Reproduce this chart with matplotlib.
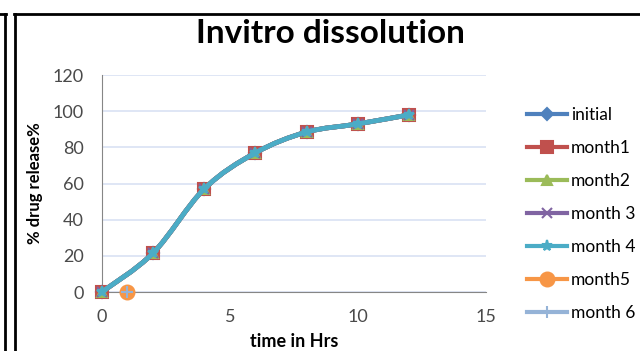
import matplotlib
matplotlib.use('Agg')
import matplotlib.pyplot as plt
from matplotlib.path import Path
from matplotlib.patches import PathPatch
from matplotlib.lines import Line2D
import numpy as np

plt.rcParams['font.family'] = ['Lato', 'DejaVu Sans']

# dissolution profile, hours vs % released
hours = [0, 2, 4, 6, 8, 10, 12]
initial = [0, 21.5, 57, 77, 88.5, 93, 98]
month1 = [0, 21.5, 57, 77, 88.5, 93, 98]
month2 = [0, 21.5, 57, 77, 88.5, 93, 98]
month3 = [0, 21.5, 57, 77, 88.5, 93, 98]
month4 = [0, 21.5, 57, 77, 88.5, 93, 98]
month5_hours = [1]
month5 = [0]
month6_hours = [1]
month6 = [0]

series = [
    ('initial', hours, initial, '#4F81BD', 'D', 6),
    ('month1', hours, month1, '#C0504D', 's', 9),
    ('month2', hours, month2, '#9BBB59', '^', 7),
    ('month 3', hours, month3, '#8064A2', 'x', 7),
    ('month 4', hours, month4, '#4BACC6', '*', 8),
    ('month5', month5_hours, month5, '#F79646', 'o', 10),
    ('month 6', month6_hours, month6, '#95B3D7', '+', 9),
]


def smooth_path(xs, ys):
    # Catmull-Rom style bezier segments through the points
    pts = np.column_stack([xs, ys]).astype(float)
    n = len(pts)
    verts = [pts[0]]
    codes = [Path.MOVETO]
    for i in range(n - 1):
        p0 = pts[max(i - 1, 0)]
        p1 = pts[i]
        p2 = pts[i + 1]
        p3 = pts[min(i + 2, n - 1)]
        c1 = p1 + (p2 - p0) / 6
        c2 = p2 - (p3 - p1) / 6
        verts += [c1, c2, p2]
        codes += [Path.CURVE4] * 3
    return Path(verts, codes)


fig = plt.figure(figsize=(6.4, 3.51), dpi=100)
ax = fig.add_axes([0.159, 0.168, 0.6, 0.618])

for i, (name, xs, ys, color, marker, ms) in enumerate(series):
    if len(xs) > 1:
        patch = PathPatch(smooth_path(xs, ys), facecolor='none', edgecolor=color,
                          lw=3.4, zorder=3 + i, capstyle='round')
        ax.add_patch(patch)
    mfc = 'none' if marker in ('x', '+') else color
    ax.plot(xs, ys, ls='none', marker=marker, ms=ms, color=color,
            mfc=mfc, mew=1.5, zorder=3 + i, clip_on=False)

ax.set_xlim(0, 15)
ax.set_ylim(0, 120)
ax.set_xticks([0, 5, 10, 15])
ax.set_yticks(range(0, 121, 20))
ax.yaxis.grid(True, color='#D9E2F3', lw=1.2)
ax.set_axisbelow(True)
for side in ['top', 'right']:
    ax.spines[side].set_visible(False)
ax.spines['left'].set_color('#868686')
ax.spines['bottom'].set_color('#868686')
ax.tick_params(length=0, labelsize=13, labelcolor='#4a4a4a')
ax.tick_params(axis='x', pad=12)
ax.tick_params(axis='y', pad=13)

ax.set_xlabel('time in Hrs', fontsize=13, fontweight='bold', labelpad=6)
ax.set_ylabel('% drug release%', fontsize=12, fontweight='bold', labelpad=7)
fig.text(0.516, 0.905, 'Invitro dissolution', ha='center', va='center',
         fontsize=24, fontweight='bold')

handles = [Line2D([], [], color=c, lw=3, marker=m, ms=ms,
                  mfc=('none' if m in ('x', '+') else c), mew=1.5)
           for _, _, _, c, m, ms in series]
labels = [s[0] for s in series]
fig.legend(handles, labels, loc='upper left', bbox_to_anchor=(0.812, 0.716),
           frameon=False, fontsize=12.5, handlelength=2.35, handletextpad=0.2,
           labelspacing=0.98, borderaxespad=0)

# outer frame lines
top = 1 - 13.5 / 351
fig.add_artist(Line2D([0.0, 5.5 / 640], [top, top], color='black', lw=2))
fig.add_artist(Line2D([4.5 / 640, 4.5 / 640], [0.0, top], color='black', lw=2))
fig.add_artist(Line2D([14 / 640, 1.0], [top, top], color='black', lw=2))
fig.add_artist(Line2D([14.5 / 640, 14.5 / 640], [0.0, top], color='black', lw=2))

fig.savefig('out.png', dpi=100)
